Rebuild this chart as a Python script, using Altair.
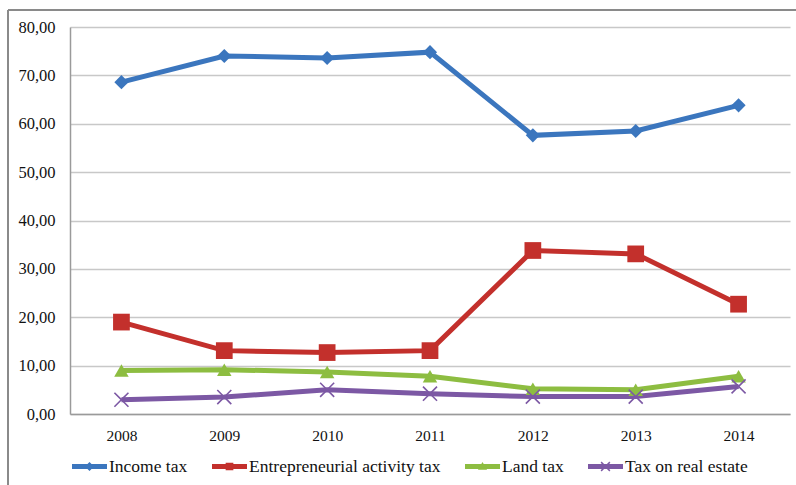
import altair as alt
import pandas as pd

years = ["2008", "2009", "2010", "2011", "2012", "2013", "2014"]
series_names = ["Income tax", "Entrepreneurial activity tax", "Land tax", "Tax on real estate"]
income_tax = [68.6, 74.0, 73.6, 74.8, 57.6, 58.5, 63.8]
entrepreneurial_tax = [19.0, 13.1, 12.7, 13.1, 33.8, 33.1, 22.7]
land_tax = [9.0, 9.15, 8.7, 7.8, 5.2, 5.0, 7.8]
real_estate_tax = [2.95, 3.5, 5.0, 4.2, 3.6, 3.6, 5.7]
y_ticks = [0, 10, 20, 30, 40, 50, 60, 70, 80]

colors = ["#3b76be", "#c3302c", "#8dbd41", "#7c58a4"]
FONT = "Liberation Serif, Times New Roman, serif"

rows = []
for name, vals in zip(series_names, [income_tax, entrepreneurial_tax, land_tax, real_estate_tax]):
    for yr, v in zip(years, vals):
        rows.append({"year": yr, "value": v, "series": name})
df = pd.DataFrame(rows)

X_PATH = ("M-1,-0.85L-0.85,-1L0,-0.15L0.85,-1L1,-0.85L0.15,0L1,0.85L0.85,1"
          "L0,0.15L-0.85,1L-1,0.85L-0.15,0Z")
BAR = "M-1,-0.14L1,-0.14L1,0.14L-1,0.14Z "
legend_paths = [
    BAR + "M0,-0.26L0.26,0L0,0.26L-0.26,0Z",
    BAR + "M-0.22,-0.22L0.22,-0.22L0.22,0.22L-0.22,0.22Z",
    BAR + "M0,-0.26L0.26,0.18L-0.26,0.18Z",
    BAR + "M-0.28,-0.22L-0.22,-0.28L0,-0.06L0.22,-0.28L0.28,-0.22L0.06,0L0.28,0.22L0.22,0.28L0,0.06L-0.22,0.28L-0.28,0.22L-0.06,0Z",
]
marker_shapes = ["diamond", "square", "triangle-up", X_PATH]
marker_sizes = [200, 280, 210, 230]

x_enc = alt.X("year:N", sort=years, title=None,
              axis=alt.Axis(labelAngle=0, ticks=False, domainColor="#9a9a9a", domainWidth=1.5,
                            labelFont=FONT, labelFontSize=15.5, labelColor="#111",
                            labelPadding=14, grid=False))
y_enc = alt.Y("value:Q", title=None,
              scale=alt.Scale(domain=[0, 80], nice=False),
              axis=alt.Axis(values=y_ticks, ticks=False, domainColor="#9a9a9a", domainWidth=1.5,
                            gridColor="#c8c8c8", gridWidth=1.5,
                            labelFont=FONT, labelFontSize=16.5, labelColor="#111",
                            labelPadding=15,
                            labelExpr="replace(format(datum.value, '.2f'), '.', ',')"))
color_scale = alt.Scale(domain=series_names, range=colors)

legend_kw = dict(orient="none", legendX=2, legendY=422, direction="horizontal", columns=4,
                 title=None, symbolSize=1225, labelFont=FONT, labelFontSize=17.5,
                 labelColor="#111", labelOffset=2, columnPadding=24, padding=0,
                 labelLimit=500, symbolStrokeWidth=0, symbolOpacity=1)
color_enc = alt.Color("series:N", scale=color_scale, legend=alt.Legend(**legend_kw))

base = alt.Chart(df)

lines = base.mark_line(strokeWidth=5).encode(x=x_enc, y=y_enc, color=color_enc)

point_layers = []
for name, shp, sz in zip(series_names, marker_shapes, marker_sizes):
    point_layers.append(
        base.transform_filter(alt.datum.series == name).mark_point(
            shape=shp, size=sz, filled=True, opacity=1, strokeWidth=0
        ).encode(x=x_enc, y=y_enc, color=color_enc)
    )

legend_layer = base.mark_point(filled=True, opacity=1, size=0, strokeWidth=0).encode(
    x=x_enc, y=y_enc,
    color=color_enc,
    shape=alt.Shape("series:N", scale=alt.Scale(domain=series_names, range=legend_paths),
                    legend=alt.Legend(**legend_kw)),
)

frame_df = pd.DataFrame({"k": [0]})
frame_left = alt.Chart(frame_df).mark_rule(color="#8a8a8a", strokeWidth=2).encode(
    x=alt.value(-62), y=alt.value(-17), y2=alt.value(470))
frame_top = alt.Chart(frame_df).mark_rule(color="#8a8a8a", strokeWidth=2).encode(
    x=alt.value(-62), x2=alt.value(730), y=alt.value(-17))

chart = alt.layer(frame_left, frame_top, lines, *point_layers, legend_layer).properties(
    width=720, height=387,
    autosize=alt.AutoSizeParams(type="none"),
    padding={"left": 70, "top": 27, "right": 6, "bottom": 71},
    background="white",
).configure_view(strokeWidth=0)

chart.save("out.html", embed_options={"renderer": "svg", "actions": False})
